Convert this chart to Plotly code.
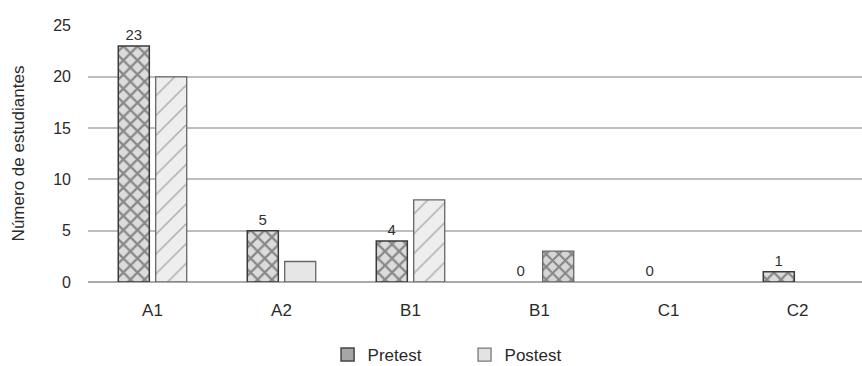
import plotly.graph_objects as go

categories = ["A1", "A2", "B1", "B1", "C1", "C2"]
pretest = [23, 5, 4, 0, 0, 1]
postest = [20, 2, 8, 3, 0, 0]

# per-bar hatch styles for the Postest series (as drawn in the reference)
post_patterns = ["/", "", "/", "x", "", ""]
post_fg = ["#666", "#666", "#666", "#333", "#666", "#666"]
post_bg = ["#eeeeee", "#e2e2e2", "#eeeeee", "#d6d6d6", "#eeeeee", "#eeeeee"]
post_sol = [0.1, 0.1, 0.1, 0.4, 0.1, 0.1]

xpos = list(range(len(categories)))
font_family = "Liberation Sans, Arial, Helvetica, sans-serif"

fig = go.Figure()
fig.add_trace(go.Bar(
    x=xpos, y=pretest, name="Pretest", showlegend=False,
    text=[str(v) for v in pretest], textposition="outside",
    textfont=dict(size=15, color="#333"), cliponaxis=False,
    marker=dict(color="#cfcfcf",
                line=dict(color="#3a3a3a", width=[1.5 if v else 0 for v in pretest]),
                pattern=dict(shape="x", fgcolor="#333", bgcolor="#dcdcdc", size=10, solidity=0.4)),
))
fig.add_trace(go.Bar(
    x=xpos, y=postest, name="Postest", showlegend=False,
    marker=dict(color="#e6e6e6",
                line=dict(color="#666", width=[1.3 if v else 0 for v in postest]),
                pattern=dict(shape=post_patterns, fgcolor=post_fg, bgcolor=post_bg,
                             size=[14, 14, 14, 9, 14, 14], solidity=post_sol)),
))
# legend-only entries (plain swatches as in the reference)
fig.add_trace(go.Scatter(x=[None], y=[None], name="Pretest", mode="markers",
                         marker=dict(symbol="square", size=13, color="#a6a6a6",
                                     line=dict(color="#444", width=1.5))))
fig.add_trace(go.Scatter(x=[None], y=[None], name="Postest", mode="markers",
                         marker=dict(symbol="square", size=13, color="#e3e3e3",
                                     line=dict(color="#777", width=1.3))))

fig.update_layout(
    width=862, height=366,
    margin=dict(l=88, r=0, t=25, b=84),
    paper_bgcolor="white", plot_bgcolor="white",
    font=dict(family=font_family, size=16, color="#2a2a2a"),
    barmode="group", bargap=0.42, bargroupgap=0.17,
    showlegend=True,
    legend=dict(orientation="h", xref="container", x=0.38, xanchor="left",
                yref="container", y=0.03, yanchor="middle",
                font=dict(size=17), itemwidth=30, entrywidth=92,
                traceorder="normal"),
    xaxis=dict(tickvals=xpos, ticktext=categories, range=[-0.5, 5.5],
               showgrid=False, showline=False, ticks="", tickfont=dict(size=17),
               ticklabelstandoff=16),
    yaxis=dict(range=[0, 25.05], tickvals=[0, 5, 10, 15, 20, 25], showgrid=True,
               gridcolor="#bdbdbd", gridwidth=1.5,
               zeroline=True, zerolinecolor="#aaaaaa", zerolinewidth=1.5,
               title=dict(text="Número de estudiantes", font=dict(size=17), standoff=24),
               tickfont=dict(size=16), ticks="", ticklabelstandoff=16),
)

fig.write_html("out.html", config={"displayModeBar": False},
               post_script="document.body.style.margin='0';")
